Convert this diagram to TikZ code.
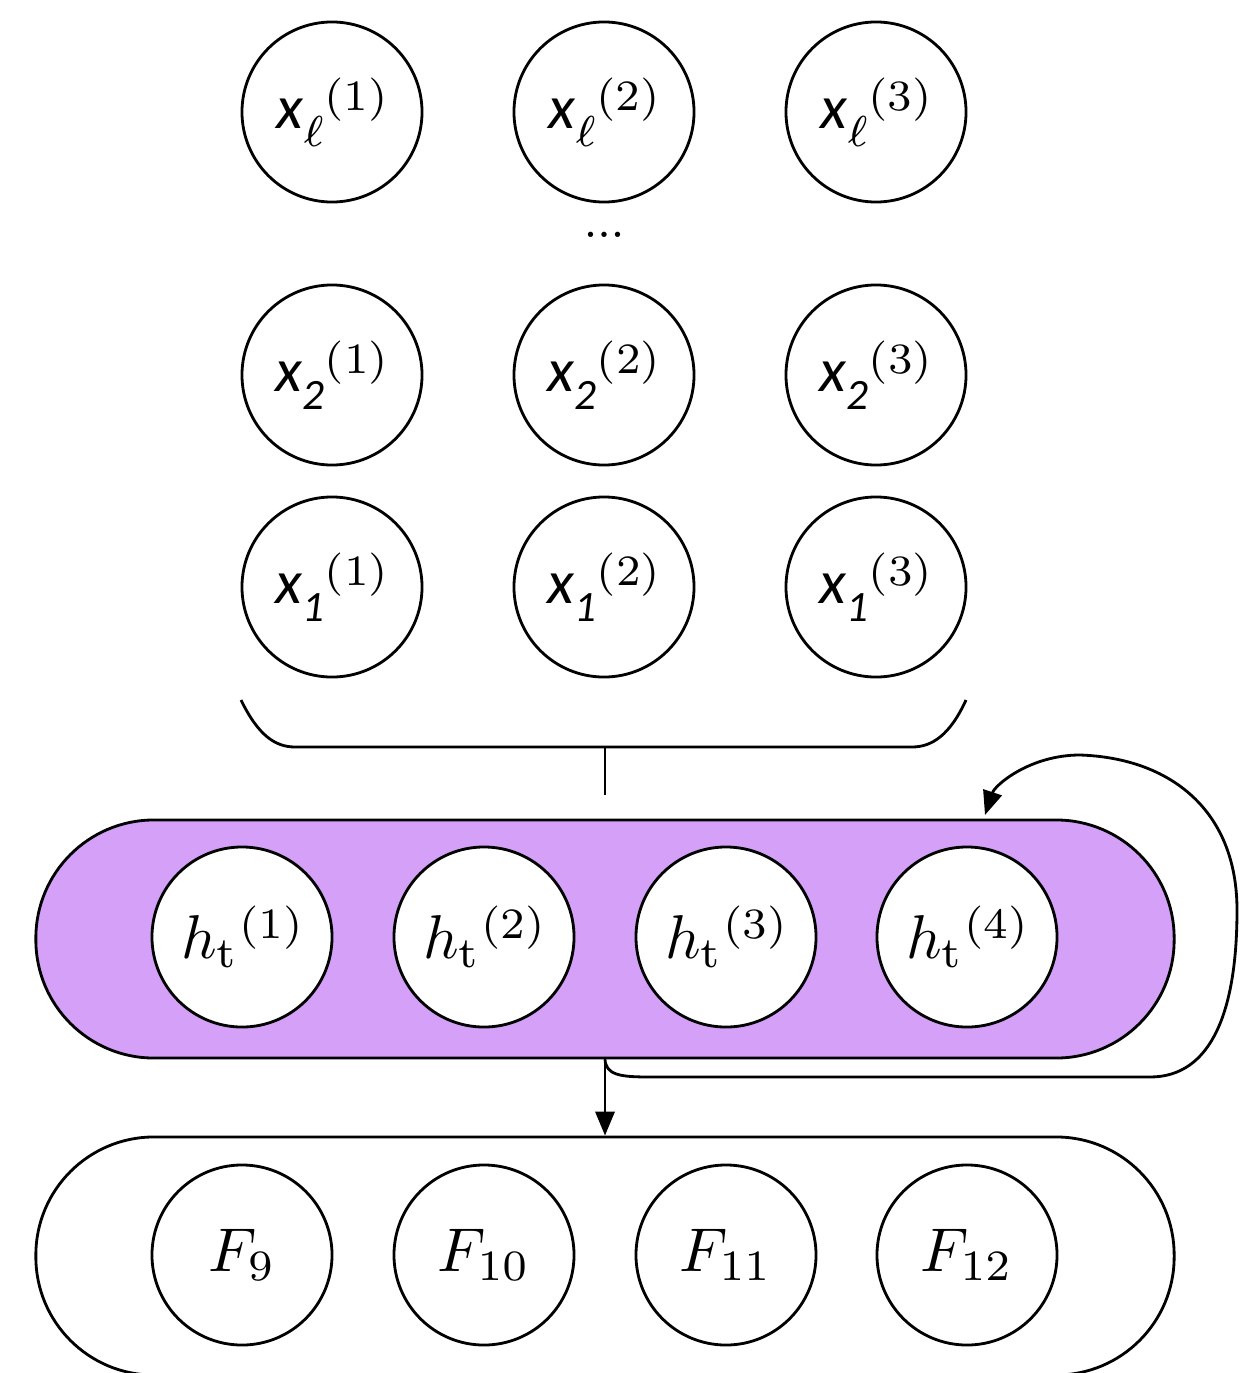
\documentclass[tikz,border=0pt]{standalone}
\usepackage{fontspec}
\newfontfamily\carl{Carlito}
\usetikzlibrary{arrows.meta}
\definecolor{hpurple}{RGB}{212,160,248}
\newcommand\biglab[1]{\scalebox{4.4}{#1}}
\newcommand\xl[2]{\biglab{{\carl\itshape x}\raisebox{-0.28em}{\fontsize{7}{7}\selectfont\carl\itshape #1}\raisebox{0.3em}{\fontsize{7}{7}\selectfont\rmfamily (#2)}}}
\newcommand\hl[1]{\biglab{$h_{\mathrm{t}}$\raisebox{0.32em}{\fontsize{7}{7}\selectfont\rmfamily (#1)}}}
\tikzset{
  unit/.style={circle, draw, fill=white, line width=2pt, minimum size=4.5cm, inner sep=0pt},
  band/.style={draw, line width=2pt, rounded corners=2.95cm, minimum width=28.45cm, minimum height=5.95cm},
  conn/.style={line width=2pt},
  tip/.style={-{Triangle[length=0.6cm,width=0.48cm]}}
}
\begin{document}
\begin{tikzpicture}[x=0.025cm,y=-0.025cm]
\useasboundingbox (0,0) rectangle (1239,1373);
% input grid
\node[unit] (xl1) at (332,112) {\xl{\ensuremath{\ell}}{1}};
\node[unit] (xl2) at (604,112) {\xl{\ensuremath{\ell}}{2}};
\node[unit] (xl3) at (876,112) {\xl{\ensuremath{\ell}}{3}};
\node (dots) at (604,235) {\biglab{\textbf{\tiny ...}}};
\node[unit] (x21) at (332,375) {\xl{2}{1}};
\node[unit] (x22) at (604,375) {\xl{2}{2}};
\node[unit] (x23) at (876,375) {\xl{2}{3}};
\node[unit] (x11) at (332,587) {\xl{1}{1}};
\node[unit] (x12) at (604,587) {\xl{1}{2}};
\node[unit] (x13) at (876,587) {\xl{1}{3}};
% brace
\coordinate (bl) at (241,700);
\coordinate (br) at (966,700);
\coordinate (bm) at (605,747);
\coordinate (bs) at (605,795);
\draw[conn] (bl) .. controls (258,735) and (275,747) .. (295,747) -- (912,747) .. controls (932,747) and (950,735) .. (br);
\draw[conn] (bm) -- (bs);
% hidden band
\node[band, fill=hpurple] (hbox) at (605,939) {};
\node[unit] (h1) at (242,937) {\hl{1}};
\node[unit] (h2) at (484,937) {\hl{2}};
\node[unit] (h3) at (726,937) {\hl{3}};
\node[unit] (h4) at (967,937) {\hl{4}};
% output band
\node[band, fill=white] (fbox) at (605,1256) {};
\node[unit] (f1) at (242,1255) {\biglab{$F_{9}$}};
\node[unit] (f2) at (484,1255) {\biglab{$F_{10}$}};
\node[unit] (f3) at (726,1255) {\biglab{$F_{11}$}};
\node[unit] (f4) at (967,1255) {\biglab{$F_{12}$}};
% connectors
\draw[conn, tip] (hbox.south) -- (fbox.north);
\coordinate (loopend) at (985,815);
\draw[conn, tip] (hbox.south) .. controls (606,1075) and (620,1077) .. (650,1077) -- (1150,1077)
  .. controls (1212,1077) and (1237,1010) .. (1237,910)
  .. controls (1237,810) and (1170,758) .. (1080,755)
  .. controls (1030,755) and (995,785) .. (loopend);
\end{tikzpicture}
\end{document}
